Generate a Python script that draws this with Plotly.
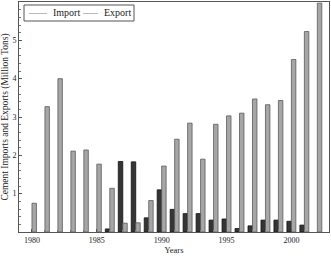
import plotly.graph_objects as go

years = list(range(1980, 2003))
imports = [0.75, 3.27, 4.0, 2.11, 2.14, 1.77, 1.14, 0.23, 0.24, 0.82, 1.72, 2.42,
           2.84, 1.90, 2.81, 3.03, 3.10, 3.47, 3.32, 3.43, 4.50, 5.23, 5.97]
exports = [None, None, None, None, None, None, 0.08, 1.84, 1.83, 0.37, 1.10, 0.59,
           0.48, 0.48, 0.31, 0.34, 0.09, 0.16, 0.31, 0.31, 0.28, 0.18, None]
y_ticks = [1, 2, 3, 4, 5, 6]
x_ticks = [1980, 1985, 1990, 1995, 2000]
legend_labels = ["Import", "Export"]

font = "Liberation Serif"
fig = go.Figure()
fig.add_trace(go.Bar(x=years, y=exports, name="Export", showlegend=False,
                     marker=dict(color="#353535", line=dict(color="#111111", width=0.8))))
fig.add_trace(go.Bar(x=years, y=imports, name="Import", showlegend=False,
                     marker=dict(color="#a6a6a6", line=dict(color="#5a5a5a", width=0.8))))

# manual compact legend (pixel positions converted to paper coordinates)
def px_x(p):
    return (p - 19) / 310.0

def px_y(p):
    return (232 - p) / 230.0

shapes = [dict(type="rect", xref="paper", yref="paper", x0=px_x(24), x1=px_x(134),
               y0=px_y(21), y1=px_y(5), line=dict(color="#555555", width=1),
               fillcolor="white", layer="above")]
line_pos = [(29, 47, 51), (83, 98, 102)]
annotations = []
for (lx0, lx1, tx), lab in zip(line_pos, legend_labels):
    shapes.append(dict(type="line", xref="paper", yref="paper", x0=px_x(lx0), x1=px_x(lx1),
                       y0=px_y(13.5), y1=px_y(13.5),
                       line=dict(color="#bbbbbb", width=1), layer="above"))
    annotations.append(dict(xref="paper", yref="paper", x=px_x(tx), y=px_y(13), xanchor="left",
                            yanchor="middle", text=lab, showarrow=False,
                            font=dict(family=font, size=10, color="#222222")))

fig.update_layout(
    width=331, height=257,
    margin=dict(l=19, r=2, t=2, b=25),
    paper_bgcolor="white", plot_bgcolor="white",
    barmode="group", bargap=0.31, bargroupgap=0,
    font=dict(family=font, size=8, color="#222222"),
    showlegend=False,
    shapes=shapes, annotations=annotations,
    xaxis=dict(range=[1979.0, 2002.9], tickvals=x_ticks, ticktext=[str(v) for v in x_ticks],
               showgrid=False, zeroline=False, showline=True, linecolor="#555555",
               linewidth=1, mirror=True, ticks="inside", ticklen=3, tickcolor="#555555",
               minor=dict(dtick=1, ticks="inside", ticklen=2, tickcolor="#777777"),
               title=dict(text="Years", font=dict(family=font, size=8.5), standoff=3)),
    yaxis=dict(range=[0, 6], tickvals=y_ticks, showgrid=False, zeroline=False,
               showline=True, linecolor="#555555", linewidth=1, mirror=True,
               ticks="inside", ticklen=3, tickcolor="#555555",
               minor=dict(dtick=0.2, ticks="inside", ticklen=2, tickcolor="#777777"),
               title=dict(text="Cement Imports and Exports (Million Tons)",
                          font=dict(family=font, size=9.5), standoff=2)),
)
fig.write_html("out.html")
